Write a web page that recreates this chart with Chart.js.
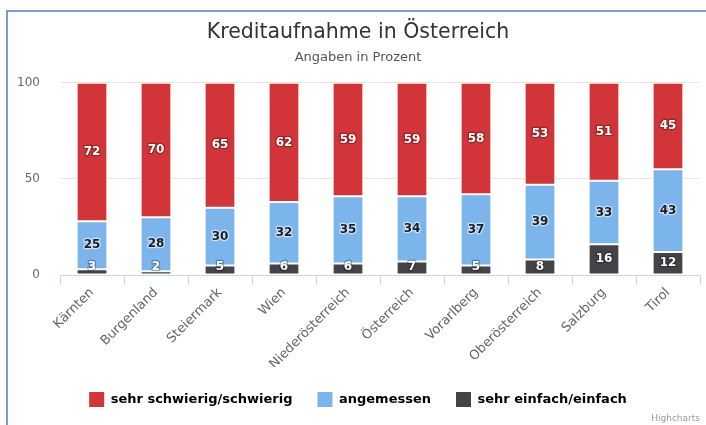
<!DOCTYPE html>
<html>
<head>
<meta charset="utf-8">
<script src="https://cdn.jsdelivr.net/npm/chart.js@4"></script>
<style>
  html, body { margin: 0; padding: 0; background: #ffffff; }
  #wrap { position: relative; width: 706px; height: 425px; }
  #frame { position: absolute; left: 6px; top: 10px; right: 0; bottom: 0;
           border-left: 2px solid #7d9ccb; border-top: 2px solid #7d9ccb; pointer-events: none; }
</style>
</head>
<body>
<div id="wrap">
  <canvas id="c" width="706" height="425"></canvas>
  <div id="frame"></div>
</div>
<script>
const categories = ["Kärnten", "Burgenland", "Steiermark", "Wien", "Niederösterreich",
                    "Österreich", "Vorarlberg", "Oberösterreich", "Salzburg", "Tirol"];
const schwierig = [72, 70, 65, 62, 59, 59, 58, 53, 51, 45];
const angemessen = [25, 28, 30, 32, 35, 34, 37, 39, 33, 43];
const einfach = [3, 2, 5, 6, 6, 7, 5, 8, 16, 12];
const yTicks = [0, 50, 100];

const FONT = "'DejaVu Sans', sans-serif";

const dataLabels = {
  id: 'dataLabels',
  afterDatasetsDraw(chart) {
    const ctx = chart.ctx;
    const area = chart.chartArea;
    ctx.save();
    ctx.font = "bold 12px " + FONT;
    ctx.textAlign = 'center';
    ctx.textBaseline = 'middle';
    ctx.lineJoin = 'round';
    chart.data.datasets.forEach((ds, di) => {
      const meta = chart.getDatasetMeta(di);
      if (meta.hidden) return;
      meta.data.forEach((bar, i) => {
        const v = ds.data[i];
        let y = (bar.y + bar.base) / 2;
        y = Math.min(y, area.bottom - 8);
        const light = ds.labelDark;
        ctx.lineWidth = 2.5;
        ctx.strokeStyle = light ? 'rgba(255,255,255,0.6)' : 'rgba(0,0,0,0.3)';
        ctx.strokeText(String(v), bar.x, y);
        ctx.fillStyle = light ? '#1b1b24' : '#ffffff';
        ctx.fillText(String(v), bar.x, y);
      });
    });
    ctx.restore();
  }
};

const credit = {
  id: 'credit',
  afterDraw(chart) {
    const ctx = chart.ctx;
    ctx.save();
    ctx.font = "9px " + FONT;
    ctx.fillStyle = '#9a9a9a';
    ctx.textAlign = 'right';
    ctx.textBaseline = 'middle';
    ctx.fillText('Highcharts', 700, 419);
    ctx.restore();
  }
};

new Chart(document.getElementById('c'), {
  type: 'bar',
  data: {
    labels: categories,
    datasets: [
      { label: 'sehr schwierig/schwierig', data: schwierig, backgroundColor: '#d13539', labelDark: false, order: 3 },
      { label: 'angemessen', data: angemessen, backgroundColor: '#7cb5ec', labelDark: true, order: 2 },
      { label: 'sehr einfach/einfach', data: einfach, backgroundColor: '#434348', labelDark: false, order: 1 }
    ].map(d => Object.assign(d, {
      borderColor: '#ffffff', borderWidth: 1, borderSkipped: false,
      categoryPercentage: 0.6, barPercentage: 0.8, stack: 's'
    }))
  },
  options: {
    responsive: false,
    animation: false,
    layout: { padding: { left: 16, right: 6, top: 0, bottom: 8 } },
    scales: {
      x: {
        stacked: true,
        grid: { drawOnChartArea: false, drawTicks: true, tickLength: 10, color: '#ccd6eb', offset: true },
        border: { color: '#ccd6eb' },
        ticks: { color: '#666666', font: { family: FONT, size: 13 }, maxRotation: 45, minRotation: 45, padding: 0, autoSkip: false },
        afterFit(s) { s.height = 92; }
      },
      y: {
        stacked: true,
        min: 0, max: 100,
        afterBuildTicks(s) { s.ticks = yTicks.map(v => ({ value: v })); },
        grid: { color: '#e6e6e6', drawTicks: false },
        border: { display: false },
        ticks: { color: '#666666', font: { family: FONT, size: 12 }, padding: 20 },
        afterFit(s) { s.width = 44; }
      }
    },
    plugins: {
      title: {
        display: true, text: 'Kreditaufnahme in Österreich', color: '#333333',
        font: { family: FONT, size: 20.5, weight: 'normal' }, padding: { top: 20, bottom: 2 }
      },
      subtitle: {
        display: true, text: 'Angaben in Prozent', color: '#555555',
        font: { family: FONT, size: 13, weight: 'normal' }, padding: { top: 3.6, bottom: 17 }
      },
      legend: {
        position: 'bottom',
        labels: {
          color: '#333333', font: { family: FONT, size: 13, weight: 'bold' },
          boxWidth: 15, boxHeight: 15, padding: 25,
          generateLabels(chart) {
            return chart.data.datasets.map((d, i) => ({
              text: d.label, fillStyle: d.backgroundColor, strokeStyle: d.backgroundColor,
              lineWidth: 0, hidden: false, datasetIndex: i
            }));
          }
        }
      },
      tooltip: { enabled: false }
    }
  },
  plugins: [dataLabels, credit]
});
</script>
</body>
</html>
